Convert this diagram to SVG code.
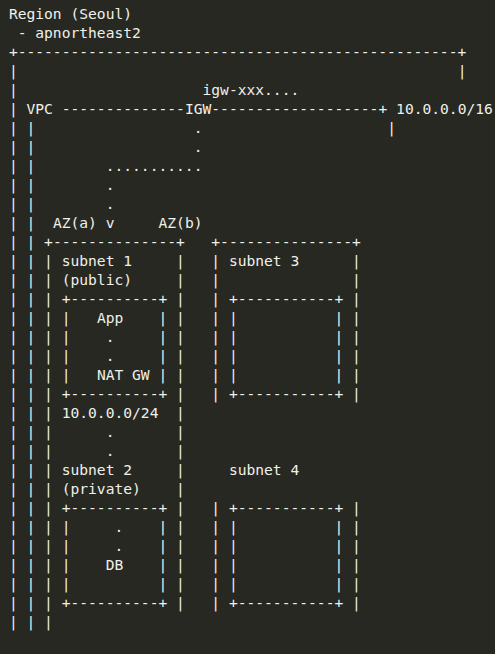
<svg xmlns="http://www.w3.org/2000/svg" width="495" height="654" viewBox="0 0 495 654">
<style>
text { font-family: "DejaVu Sans Mono", "Liberation Mono", monospace; font-size: 14.617px; fill: #f0f0ea; white-space: pre; }
</style>
<rect width="495" height="654" fill="#272822"/>

<g id="region">
<text x="8.9" y="19">Region (Seoul)</text>
<text x="17.7" y="38">- apnortheast2</text>
<text x="8.9" y="57">+--------------------------------------------------+</text>
<text x="457.7" y="76">|</text>
<text><tspan x="8.9" y="76">|</tspan><tspan x="8.9" y="95">|</tspan><tspan x="8.9" y="114">|</tspan><tspan x="8.9" y="133">|</tspan><tspan x="8.9" y="152">|</tspan><tspan x="8.9" y="171">|</tspan><tspan x="8.9" y="190">|</tspan><tspan x="8.9" y="209">|</tspan><tspan x="8.9" y="228">|</tspan><tspan x="8.9" y="247">|</tspan><tspan x="8.9" y="266">|</tspan><tspan x="8.9" y="285">|</tspan><tspan x="8.9" y="304">|</tspan><tspan x="8.9" y="323">|</tspan><tspan x="8.9" y="342">|</tspan><tspan x="8.9" y="361">|</tspan><tspan x="8.9" y="380">|</tspan><tspan x="8.9" y="399">|</tspan><tspan x="8.9" y="418">|</tspan><tspan x="8.9" y="437">|</tspan><tspan x="8.9" y="456">|</tspan><tspan x="8.9" y="475">|</tspan><tspan x="8.9" y="494">|</tspan><tspan x="8.9" y="513">|</tspan><tspan x="8.9" y="532">|</tspan><tspan x="8.9" y="551">|</tspan><tspan x="8.9" y="570">|</tspan><tspan x="8.9" y="589">|</tspan><tspan x="8.9" y="608">|</tspan><tspan x="8.9" y="627">|</tspan></text>
</g>

<g id="vpc">
<text x="26.5" y="114">VPC</text>
<text x="396.1" y="114">10.0.0.0/16</text>
<text><tspan x="26.5" y="133">|</tspan><tspan x="26.5" y="152">|</tspan><tspan x="26.5" y="171">|</tspan><tspan x="26.5" y="190">|</tspan><tspan x="26.5" y="209">|</tspan><tspan x="26.5" y="228">|</tspan><tspan x="26.5" y="247">|</tspan><tspan x="26.5" y="266">|</tspan><tspan x="26.5" y="285">|</tspan><tspan x="26.5" y="304">|</tspan><tspan x="26.5" y="323">|</tspan><tspan x="26.5" y="342">|</tspan><tspan x="26.5" y="361">|</tspan><tspan x="26.5" y="380">|</tspan><tspan x="26.5" y="399">|</tspan><tspan x="26.5" y="418">|</tspan><tspan x="26.5" y="437">|</tspan><tspan x="26.5" y="456">|</tspan><tspan x="26.5" y="475">|</tspan><tspan x="26.5" y="494">|</tspan><tspan x="26.5" y="513">|</tspan><tspan x="26.5" y="532">|</tspan><tspan x="26.5" y="551">|</tspan><tspan x="26.5" y="570">|</tspan><tspan x="26.5" y="589">|</tspan><tspan x="26.5" y="608">|</tspan><tspan x="26.5" y="627">|</tspan></text>
</g>

<g id="igw">
<text x="202.5" y="95">igw-xxx....</text>
<text x="184.9" y="114">IGW</text>
</g>

<g id="az-a">
<text x="52.9" y="228">AZ(a)</text>
<text x="44.1" y="247">+--------------+</text>
<text><tspan x="44.1" y="266">|</tspan><tspan x="44.1" y="285">|</tspan><tspan x="44.1" y="304">|</tspan><tspan x="44.1" y="323">|</tspan><tspan x="44.1" y="342">|</tspan><tspan x="44.1" y="361">|</tspan><tspan x="44.1" y="380">|</tspan><tspan x="44.1" y="399">|</tspan><tspan x="44.1" y="418">|</tspan><tspan x="44.1" y="437">|</tspan><tspan x="44.1" y="456">|</tspan><tspan x="44.1" y="475">|</tspan><tspan x="44.1" y="494">|</tspan><tspan x="44.1" y="513">|</tspan><tspan x="44.1" y="532">|</tspan><tspan x="44.1" y="551">|</tspan><tspan x="44.1" y="570">|</tspan><tspan x="44.1" y="589">|</tspan><tspan x="44.1" y="608">|</tspan><tspan x="44.1" y="627">|</tspan></text>
<text><tspan x="176.1" y="266">|</tspan><tspan x="176.1" y="285">|</tspan><tspan x="176.1" y="304">|</tspan><tspan x="176.1" y="323">|</tspan><tspan x="176.1" y="342">|</tspan><tspan x="176.1" y="361">|</tspan><tspan x="176.1" y="380">|</tspan><tspan x="176.1" y="399">|</tspan><tspan x="176.1" y="418">|</tspan><tspan x="176.1" y="437">|</tspan><tspan x="176.1" y="456">|</tspan><tspan x="176.1" y="475">|</tspan><tspan x="176.1" y="494">|</tspan><tspan x="176.1" y="513">|</tspan><tspan x="176.1" y="532">|</tspan><tspan x="176.1" y="551">|</tspan><tspan x="176.1" y="570">|</tspan><tspan x="176.1" y="589">|</tspan><tspan x="176.1" y="608">|</tspan></text>
</g>

<g id="az-b">
<text x="158.5" y="228">AZ(b)</text>
<text x="211.3" y="247">+---------------+</text>
<text><tspan x="211.3" y="266">|</tspan><tspan x="211.3" y="285">|</tspan><tspan x="211.3" y="304">|</tspan><tspan x="211.3" y="323">|</tspan><tspan x="211.3" y="342">|</tspan><tspan x="211.3" y="361">|</tspan><tspan x="211.3" y="380">|</tspan><tspan x="211.3" y="399">|</tspan><tspan x="211.3" y="513">|</tspan><tspan x="211.3" y="532">|</tspan><tspan x="211.3" y="551">|</tspan><tspan x="211.3" y="570">|</tspan><tspan x="211.3" y="589">|</tspan><tspan x="211.3" y="608">|</tspan></text>
<text><tspan x="352.1" y="266">|</tspan><tspan x="352.1" y="285">|</tspan><tspan x="352.1" y="304">|</tspan><tspan x="352.1" y="323">|</tspan><tspan x="352.1" y="342">|</tspan><tspan x="352.1" y="361">|</tspan><tspan x="352.1" y="380">|</tspan><tspan x="352.1" y="399">|</tspan><tspan x="352.1" y="513">|</tspan><tspan x="352.1" y="532">|</tspan><tspan x="352.1" y="551">|</tspan><tspan x="352.1" y="570">|</tspan><tspan x="352.1" y="589">|</tspan><tspan x="352.1" y="608">|</tspan></text>
</g>

<g id="subnet-1">
<text x="61.7" y="266">subnet 1</text>
<text x="61.7" y="285">(public)</text>
<text x="61.7" y="304">+----------+</text>
<text><tspan x="61.7" y="323">|</tspan><tspan x="61.7" y="342">|</tspan><tspan x="61.7" y="361">|</tspan><tspan x="61.7" y="380">|</tspan></text>
<text><tspan x="158.5" y="323">|</tspan><tspan x="158.5" y="342">|</tspan><tspan x="158.5" y="361">|</tspan><tspan x="158.5" y="380">|</tspan></text>
<text x="61.7" y="399">+----------+</text>
<text x="61.7" y="418">10.0.0.0/24</text>
</g>

<g id="app">
<text x="96.9" y="323">App</text>
</g>

<g id="nat-gw">
<text x="96.9" y="380">NAT GW</text>
</g>

<g id="subnet-2">
<text x="61.7" y="475">subnet 2</text>
<text x="61.7" y="494">(private)</text>
<text x="61.7" y="513">+----------+</text>
<text><tspan x="61.7" y="532">|</tspan><tspan x="61.7" y="551">|</tspan><tspan x="61.7" y="570">|</tspan><tspan x="61.7" y="589">|</tspan></text>
<text><tspan x="158.5" y="532">|</tspan><tspan x="158.5" y="551">|</tspan><tspan x="158.5" y="570">|</tspan><tspan x="158.5" y="589">|</tspan></text>
<text x="61.7" y="608">+----------+</text>
</g>

<g id="db">
<text x="105.7" y="570">DB</text>
</g>

<g id="subnet-3">
<text x="228.9" y="266">subnet 3</text>
<text x="228.9" y="304">+-----------+</text>
<text><tspan x="228.9" y="323">|</tspan><tspan x="228.9" y="342">|</tspan><tspan x="228.9" y="361">|</tspan><tspan x="228.9" y="380">|</tspan></text>
<text><tspan x="334.5" y="323">|</tspan><tspan x="334.5" y="342">|</tspan><tspan x="334.5" y="361">|</tspan><tspan x="334.5" y="380">|</tspan></text>
<text x="228.9" y="399">+-----------+</text>
</g>

<g id="subnet-4">
<text x="228.9" y="475">subnet 4</text>
<text x="228.9" y="513">+-----------+</text>
<text><tspan x="228.9" y="532">|</tspan><tspan x="228.9" y="551">|</tspan><tspan x="228.9" y="570">|</tspan><tspan x="228.9" y="589">|</tspan></text>
<text><tspan x="334.5" y="532">|</tspan><tspan x="334.5" y="551">|</tspan><tspan x="334.5" y="570">|</tspan><tspan x="334.5" y="589">|</tspan></text>
<text x="228.9" y="608">+-----------+</text>
</g>

<g id="connectors">
<text x="61.7" y="114">--------------</text>
<text x="211.3" y="114">-------------------+</text>
<text x="387.3" y="133">|</text>
<text x="193.7" y="133">.</text>
<text x="193.7" y="152">.</text>
<text x="105.7" y="171">...........</text>
<text x="105.7" y="190">.</text>
<text x="105.7" y="209">.</text>
<text x="105.7" y="228">v</text>
<text x="105.7" y="342">.</text>
<text x="105.7" y="361">.</text>
<text x="105.7" y="437">.</text>
<text x="105.7" y="456">.</text>
<text x="114.5" y="532">.</text>
<text x="114.5" y="551">.</text>
</g>
</svg>
